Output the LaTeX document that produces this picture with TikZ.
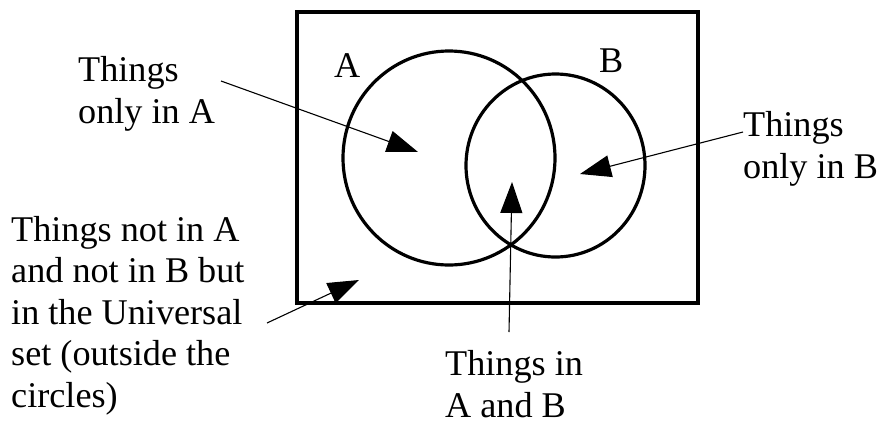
\documentclass[tikz,border=0pt]{standalone}
\usepackage{fontspec}
\setmainfont{Liberation Serif}
\usetikzlibrary{arrows.meta}
\tikzset{
  lbl/.style={font=\fontsize{36.2}{41.5}\selectfont, align=left, inner sep=0pt, anchor=base west},
  box/.style={draw, line width=4pt},
  setline/.style={draw, line width=3.2pt},
  ptr/.style={line width=1.1pt, -{Triangle[length=31pt,width=22pt]}}
}
\begin{document}
\begin{tikzpicture}[x=1pt,y=-1pt]
\useasboundingbox (0,0) rectangle (883,421);
\draw[box] (297,12) rectangle (698,303);
\draw[setline] (449,158) ellipse [x radius=106, y radius=107];
\draw[setline] (555.5,165.5) ellipse [x radius=89.5, y radius=91.5];
\node[lbl] (lA) at (334,77) {A};
\node[lbl] (lB) at (599,72) {B};
\node[lbl] (tA) at (78,123) {Things\\only in A};
\node[lbl] (tB) at (743,178) {Things\\only in B};
\node[lbl] (tAB) at (445,417) {Things in\\A and B};
\node[lbl] (tU) at (11,407) {Things not in A\\and not in B but\\in the Universal\\set (outside the\\circles)};
\coordinate (sA) at (221,81);
\coordinate (pA) at (418,152);
\coordinate (sB) at (743,132);
\coordinate (pB) at (580,174);
\coordinate (sAB) at (509,332);
\coordinate (pAB) at (512,182);
\coordinate (sU) at (267,323);
\coordinate (pU) at (359,280);
\draw[ptr] (sA) -- (pA);
\draw[ptr] (sB) -- (pB);
\draw[ptr] (sAB) -- (pAB);
\draw[ptr] (sU) -- (pU);
\end{tikzpicture}
\end{document}
